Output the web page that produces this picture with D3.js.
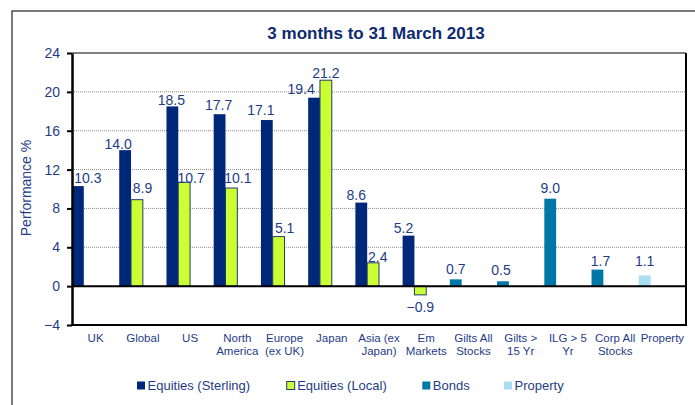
<!DOCTYPE html>
<html><head><meta charset="utf-8">
<script src="https://cdn.jsdelivr.net/npm/d3@7"></script>
<style>
html,body{margin:0;padding:0;background:#fff;}
svg{display:block;font-family:"Liberation Sans",Arial,sans-serif;}
</style></head>
<body><svg id="c" width="695" height="405"></svg>
<script>
const categories = ["UK","Global","US","North America","Europe (ex UK)","Japan","Asia (ex Japan)","Em Markets","Gilts All Stocks","Gilts > 15 Yr","ILG > 5 Yr","Corp All Stocks","Property"];
const categoryLines = [["UK"],["Global"],["US"],["North","America"],["Europe","(ex UK)"],["Japan"],["Asia (ex","Japan)"],["Em","Markets"],["Gilts All","Stocks"],["Gilts >","15 Yr"],["ILG > 5","Yr"],["Corp All","Stocks"],["Property"]];
const equitiesSterling = [10.3,14.0,18.5,17.7,17.1,19.4,8.6,5.2,null,null,null,null,null];
const equitiesLocal    = [null,8.9,10.7,10.1,5.1,21.2,2.4,-0.9,null,null,null,null,null];
const bonds            = [null,null,null,null,null,null,null,null,0.7,0.5,9.0,1.7,null];
const property         = [null,null,null,null,null,null,null,null,null,null,null,null,1.1];
const seriesNames = ["Equities (Sterling)","Equities (Local)","Bonds","Property"];
const yTicks = [-4,0,4,8,12,16,20,24];
const title = "3 months to 31 March 2013";
const yTitle = "Performance %";

// label nudges (pixels) to mimic the original's manual label placement
const labelDx = [
  [10,-7,-1,-1,-6,-13,-5,-5,0,0,0,0,0],
  [0,5.5,7,6.5,6,0,4.7,0,0,0,0,0,0],
  [0,0,0,0,0,0,0,0,0,-2,0,3,0],
  [0,0,0,0,0,0,0,0,0,0,0,0,0]];
const labelGap = [
  [3,1,1,4,5,4,3,2.7,3,3,3,3,3],
  [3,6.5,-1,5,4,2.7,1.3,17,3,3,3,3,3],
  [3,3,3,3,3,3,3,3,5,6,5.6,3.3,3],
  [3,3,3,3,3,3,3,3,3,3,3,3,9]];

const seriesValues = [equitiesSterling, equitiesLocal, bonds, property];
const seriesSlot = [0,1,0,0];
const colors = ["#00287A","#CCFF33","#0078A6","#A8DDF2"];
const textColor = "#1F3C88";

const svg = d3.select("#c");
const L = 72, R = 686, T = 53, B = 325;

// outer frame
svg.append("rect").attr("x",12).attr("y",11).attr("width",700).attr("height",420)
  .attr("fill","none").attr("stroke","#222").attr("stroke-width",1.2);

const x0 = d3.scaleBand().domain(categories).range([L,R]).padding(0);
const x1 = d3.scaleBand().domain([0,1,2,3]).range([0,x0.bandwidth()]).padding(0);
const y = d3.scaleLinear().domain([-4,24]).range([B,T]);

// gridlines
svg.append("g").selectAll("line").data(yTicks.filter(t=>t>0 && t<24)).join("line")
  .attr("x1",L).attr("x2",R).attr("y1",d=>y(d)).attr("y2",d=>y(d))
  .attr("stroke","#8a8a8a").attr("stroke-width",1).attr("stroke-dasharray","1,1");

// plot frame
svg.append("line").attr("x1",L).attr("x2",R).attr("y1",T).attr("y2",T).attr("stroke","#000").attr("stroke-width",1);
svg.append("line").attr("x1",R).attr("x2",R).attr("y1",T).attr("y2",B+1).attr("stroke","#000").attr("stroke-width",2);
svg.append("line").attr("x1",L).attr("x2",R+1).attr("y1",B).attr("y2",B).attr("stroke","#000").attr("stroke-width",2);

// bars
seriesValues.forEach((vals,si)=>{
  const g = svg.append("g");
  const data = vals.map((v,i)=>({v,i,c:categories[i]})).filter(d=>d.v!==null);
  g.selectAll("rect").data(data).join("rect")
    .attr("x",d=>x0(d.c)+x1(seriesSlot[si]))
    .attr("width",x1.bandwidth())
    .attr("y",d=>y(Math.max(0,d.v)))
    .attr("height",d=>Math.abs(y(d.v)-y(0)))
    .attr("fill",colors[si])
    .attr("stroke",si===1?"#1F3C6E":"none")
    .attr("stroke-width",si===1?1:0);
  g.selectAll("text").data(data).join("text")
    .attr("x",d=>x0(d.c)+x1(seriesSlot[si])+x1.bandwidth()/2+labelDx[si][d.i])
    .attr("y",d=>d.v>=0 ? y(d.v)-labelGap[si][d.i] : y(d.v)+labelGap[si][d.i])
    .attr("text-anchor","middle").attr("font-size",14).attr("fill",textColor)
    .text(d=>d3.format(".1f")(d.v));
});

// zero line
svg.append("line").attr("x1",L).attr("x2",R).attr("y1",y(0)).attr("y2",y(0)).attr("stroke","#000").attr("stroke-width",2);

// y axis
const yAxis = d3.axisLeft(y).tickValues(yTicks).tickSize(5).tickSizeOuter(0).tickPadding(7);
const ya = svg.append("g").attr("transform",`translate(${L},0)`).call(yAxis);
ya.select(".domain").attr("stroke","#000").attr("stroke-width",2.5);
ya.selectAll(".tick line").attr("stroke","#000").attr("stroke-width",2);
ya.selectAll(".tick text").attr("font-size",14).attr("fill",textColor)
  .attr("font-family","Liberation Sans, Arial, sans-serif");

// category labels
const cg = svg.append("g");
categories.forEach((c,i)=>{
  const t = cg.append("text").attr("x",x0(c)+x0.bandwidth()/2).attr("y",342)
    .attr("text-anchor","middle").attr("font-size",11.5).attr("fill",textColor);
  categoryLines[i].forEach((ln,k)=>{
    t.append("tspan").attr("x",x0(c)+x0.bandwidth()/2).attr("dy",k===0?0:13.3).text(ln);
  });
});

// titles
svg.append("text").attr("x",376).attr("y",39.3).attr("text-anchor","middle")
  .attr("font-size",17).attr("font-weight","bold").attr("fill","#0E2A70").text(title);
svg.append("text").attr("transform","translate(31,188) rotate(-90)").attr("text-anchor","middle")
  .attr("font-size",14).attr("fill",textColor).text(yTitle);

// legend
const legendX = [137,286.7,422.3,504];
const lg = svg.append("g");
seriesNames.forEach((n,i)=>{
  lg.append("rect").attr("x",legendX[i]).attr("y",381.5).attr("width",8).attr("height",8)
    .attr("fill",colors[i]).attr("stroke",i===1?"#1F3C6E":"none").attr("stroke-width",i===1?1:0);
  lg.append("text").attr("x",legendX[i]+10.5).attr("y",390.3).attr("font-size",13)
    .attr("fill",textColor).text(n);
});
</script>
</body></html>
